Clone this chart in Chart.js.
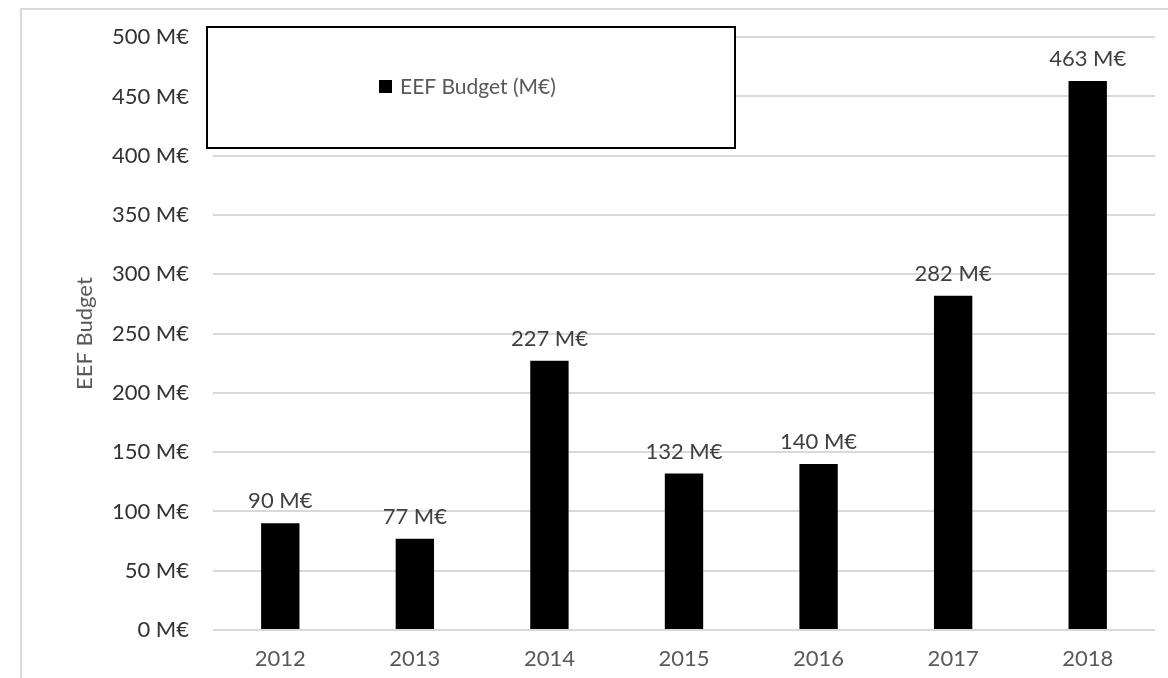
<!DOCTYPE html>
<html>
<head>
<meta charset="utf-8">
<script src="https://cdn.jsdelivr.net/npm/chart.js@4"></script>
<style>
  body { margin: 0; background: #fff; }
  #wrap { position: relative; width: 1168px; height: 678px; }
</style>
</head>
<body>
<div id="wrap"><canvas id="budgetChart" width="1168" height="678"></canvas></div>
<script>
const years = ["2012", "2013", "2014", "2015", "2016", "2017", "2018"];
const budget = [90, 77, 227, 132, 140, 282, 463];
const seriesName = "EEF Budget (M€)";
const axisTitle = "EEF Budget";
const fontFam = "Lato, 'Open Sans', sans-serif";

// outer frame + legend box drawn inside the plot
const frameAndLegend = {
  id: "frameAndLegend",
  beforeDraw(chart) {
    const c = chart.ctx;
    c.save();
    c.strokeStyle = "#d9d9d9";
    c.lineWidth = 2;
    c.strokeRect(21, 9, 1160, 700);
    c.restore();
  },
  afterDraw(chart) {
    const c = chart.ctx;
    c.save();
    c.fillStyle = "#fff";
    c.fillRect(207, 27, 528, 121);
    c.strokeStyle = "#000";
    c.lineWidth = 2;
    c.strokeRect(207, 27, 528, 121);
    c.fillStyle = "#000";
    c.fillRect(379, 80, 13, 13);
    c.font = "21px " + fontFam;
    c.fillStyle = "#595959";
    c.textBaseline = "middle";
    c.fillText(chart.data.datasets[0].label, 400, 87);
    c.restore();
  }
};

// value labels above the bars
const barLabels = {
  id: "barLabels",
  afterDatasetsDraw(chart) {
    const c = chart.ctx;
    const meta = chart.getDatasetMeta(0);
    c.save();
    c.font = "22px " + fontFam;
    c.fillStyle = "#404040";
    c.textAlign = "center";
    c.textBaseline = "bottom";
    meta.data.forEach((bar, i) => {
      c.fillText(chart.data.datasets[0].data[i] + " M€", bar.x, bar.y - 11);
    });
    c.restore();
  }
};

const ctx = document.getElementById("budgetChart").getContext("2d");
new Chart(ctx, {
  type: "bar",
  plugins: [frameAndLegend, barLabels],
  data: {
    labels: years,
    datasets: [
      {
        label: seriesName,
        data: budget,
        backgroundColor: "#000",
        categoryPercentage: 1,
        barPercentage: 0.285,
      },
    ],
  },
  options: {
    responsive: false,
    animation: false,
    layout: { padding: { top: 37, right: 13, left: 0, bottom: 0 } },
    scales: {
      x: {
        grid: { display: false },
        border: { display: false },
        ticks: { color: "#595959", font: { size: 22, family: fontFam }, padding: 8 },
        afterFit: (s) => { s.height = 48; },
      },
      y: {
        min: 0,
        max: 500,
        ticks: {
          stepSize: 50,
          color: "#333",
          padding: 24,
          font: { size: 22, family: fontFam },
          callback: (v) => v + " M€",
        },
        grid: { color: "#d9d9d9", lineWidth: 2, drawTicks: false },
        border: { display: false },
        title: {
          display: true,
          text: axisTitle,
          color: "#595959",
          font: { size: 22, family: fontFam },
          padding: { top: 72, bottom: 0 },
        },
        afterFit: (s) => { s.width = 213; },
      },
    },
    plugins: {
      legend: { display: false },
      tooltip: { enabled: false },
    },
  },
});
</script>
</body>
</html>
